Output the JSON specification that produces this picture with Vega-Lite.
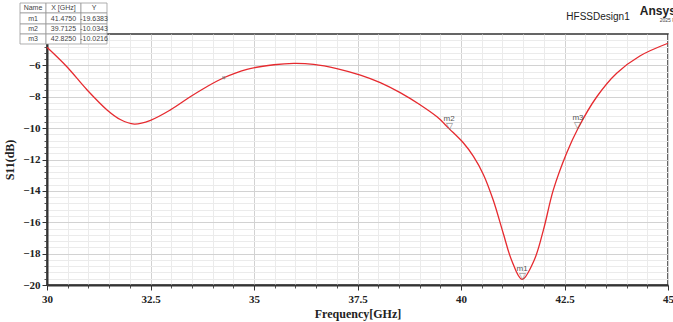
{
  "$schema": "https://vega.github.io/schema/vega-lite/v6.json",
  "width": 621,
  "height": 251,
  "autosize": {"type": "none"},
  "padding": {"left": 47, "top": 34, "right": 5, "bottom": 37},
  "background": "white",
  "title": {"text": "Terminal S Parameter Plot 1", "font": "Liberation Sans", "fontSize": 12, "fontWeight": "normal", "color": "#333333", "offset": 16, "anchor": "middle"},
  "config": {"view": {"stroke": "#333333", "strokeWidth": 1.5}},
  "datasets": {
    "curve": [
      {"f": 30.0, "s": -4.85}, {"f": 30.48, "s": -6.09}, {"f": 30.97, "s": -7.57}, {"f": 31.45, "s": -8.84},
      {"f": 31.77, "s": -9.45}, {"f": 32.11, "s": -9.74}, {"f": 32.5, "s": -9.5}, {"f": 32.98, "s": -8.84},
      {"f": 33.46, "s": -8.0}, {"f": 33.86, "s": -7.36}, {"f": 34.27, "s": -6.79}, {"f": 34.83, "s": -6.25},
      {"f": 35.48, "s": -5.96}, {"f": 35.96, "s": -5.87}, {"f": 36.44, "s": -5.93}, {"f": 37.0, "s": -6.2},
      {"f": 37.57, "s": -6.62}, {"f": 38.05, "s": -7.1}, {"f": 38.53, "s": -7.74}, {"f": 39.02, "s": -8.53},
      {"f": 39.42, "s": -9.28}, {"f": 39.7125, "s": -10.03}, {"f": 40.06, "s": -10.95}, {"f": 40.3, "s": -11.8},
      {"f": 40.54, "s": -12.95}, {"f": 40.78, "s": -14.6}, {"f": 41.02, "s": -16.7}, {"f": 41.22, "s": -18.4},
      {"f": 41.475, "s": -19.64}, {"f": 41.77, "s": -18.4}, {"f": 41.99, "s": -16.5}, {"f": 42.23, "s": -13.94},
      {"f": 42.55, "s": -11.6}, {"f": 42.825, "s": -10.02}, {"f": 43.28, "s": -8.0}, {"f": 43.76, "s": -6.5},
      {"f": 44.32, "s": -5.4}, {"f": 45.0, "s": -4.59}
    ],
    "markers": [
      {"f": 41.475, "s": -19.6383, "name": "m1"},
      {"f": 39.7125, "s": -10.0343, "name": "m2"},
      {"f": 42.825, "s": -10.0216, "name": "m3"}
    ],
    "cells": [
      {"x1": 29.348, "x2": 29.976, "y1": -2.024, "y2": -2.661, "t": "Name"},
      {"x1": 29.976, "x2": 30.821, "y1": -2.024, "y2": -2.661, "t": "X [GHz]"},
      {"x1": 30.821, "x2": 31.449, "y1": -2.024, "y2": -2.661, "t": "Y"},
      {"x1": 29.348, "x2": 29.976, "y1": -2.661, "y2": -3.363, "t": "m1"},
      {"x1": 29.976, "x2": 30.821, "y1": -2.661, "y2": -3.363, "t": "41.4750"},
      {"x1": 30.821, "x2": 31.449, "y1": -2.661, "y2": -3.363, "t": "-19.6383"},
      {"x1": 29.348, "x2": 29.976, "y1": -3.363, "y2": -4.0, "t": "m2"},
      {"x1": 29.976, "x2": 30.821, "y1": -3.363, "y2": -4.0, "t": "39.7125"},
      {"x1": 30.821, "x2": 31.449, "y1": -3.363, "y2": -4.0, "t": "-10.0343"},
      {"x1": 29.348, "x2": 29.976, "y1": -4.0, "y2": -4.637, "t": "m3"},
      {"x1": 29.976, "x2": 30.821, "y1": -4.0, "y2": -4.637, "t": "42.8250"},
      {"x1": 30.821, "x2": 31.449, "y1": -4.0, "y2": -4.637, "t": "-10.0216"}
    ],
    "labels": [
      {"f": 43.31, "s": -2.93, "t": "HFSSDesign1", "k": "design"},
      {"f": 44.32, "s": -2.55, "t": "Ansys", "k": "brand"},
      {"f": 44.8, "s": -3.1, "t": "2025 R", "k": "ver"}
    ]
  },
  "layer": [
    {
      "data": {"name": "curve"},
      "mark": {"type": "line", "strokeOpacity": 0},
      "encoding": {
        "x": {"field": "f", "type": "quantitative", "scale": {"domain": [30, 45], "nice": false, "zero": false},
          "axis": {"orient": "bottom", "values": [30.5,31,31.5,32,33,33.5,34,34.5,35.5,36,36.5,37,38,38.5,39,39.5,40.5,41,41.5,42,43,43.5,44,44.5], "labels": false, "domain": false, "grid": true, "gridColor": "#ebebeb", "gridWidth": 1, "tickSize": 3, "tickColor": "#555555", "title": null}},
        "y": {"field": "s", "type": "quantitative", "scale": {"domain": [-20, -4], "nice": false, "zero": false},
          "axis": {"orient": "left", "values": [-19.6,-19.2,-18.8,-18.4,-17.6,-17.2,-16.8,-16.4,-15.6,-15.2,-14.8,-14.4,-13.6,-13.2,-12.8,-12.4,-11.6,-11.2,-10.8,-10.4,-9.6,-9.2,-8.8,-8.4,-7.6,-7.2,-6.8,-6.4,-5.6,-5.2,-4.8,-4.4], "labels": false, "domain": false, "grid": true, "gridColor": "#ebebeb", "gridWidth": 1, "tickSize": 3, "tickColor": "#555555", "title": null}}
      }
    },
    {
      "data": {"name": "curve"},
      "mark": {"type": "line", "color": "#e62a2f", "strokeWidth": 1.3, "interpolate": "catmull-rom"},
      "encoding": {
        "x": {"field": "f", "type": "quantitative", "scale": {"domain": [30, 45], "nice": false, "zero": false},
          "axis": {"orient": "bottom", "values": [30, 32.5, 35, 37.5, 40, 42.5, 45], "format": ".1~f", "grid": true, "gridColor": "#d2d2d2", "gridWidth": 1, "domainColor": "#333333", "domainWidth": 2, "tickColor": "#333333", "tickSize": 5, "labelFont": "Liberation Serif", "labelFontWeight": "bold", "labelFontSize": 11, "labelColor": "#222222", "labelPadding": 3, "labelFlush": false, "title": "Frequency[GHz]", "titleFont": "Liberation Serif", "titleFontWeight": "bold", "titleFontSize": 12, "titleColor": "#222222", "titlePadding": 4}},
        "y": {"field": "s", "type": "quantitative", "scale": {"domain": [-20, -4], "nice": false, "zero": false},
          "axis": {"orient": "left", "values": [-20, -18, -16, -14, -12, -10, -8, -6], "grid": true, "gridColor": "#d2d2d2", "gridWidth": 1, "domainColor": "#333333", "domainWidth": 2, "tickColor": "#333333", "tickSize": 5, "labelFont": "Liberation Serif", "labelFontWeight": "bold", "labelFontSize": 11, "labelColor": "#222222", "labelPadding": 2, "labelFlush": false, "title": "S11(dB)", "titleFont": "Liberation Serif", "titleFontWeight": "bold", "titleFontSize": 12, "titleColor": "#222222", "titlePadding": 6}}
      }
    },
    {
      "data": {"name": "markers"},
      "mark": {"type": "text", "text": "▽", "fontSize": 9, "baseline": "bottom", "dy": 2, "color": "#777777"},
      "encoding": {
        "x": {"field": "f", "type": "quantitative", "scale": {"domain": [30, 45], "nice": false, "zero": false}, "axis": null},
        "y": {"field": "s", "type": "quantitative", "scale": {"domain": [-20, -4], "nice": false, "zero": false}, "axis": null}
      }
    },
    {
      "data": {"name": "markers"},
      "mark": {"type": "text", "fontSize": 8, "baseline": "bottom", "dy": -6, "color": "#555555", "font": "Liberation Sans"},
      "encoding": {
        "x": {"field": "f", "type": "quantitative", "scale": {"domain": [30, 45], "nice": false, "zero": false}, "axis": null},
        "y": {"field": "s", "type": "quantitative", "scale": {"domain": [-20, -4], "nice": false, "zero": false}, "axis": null},
        "text": {"field": "name"}
      }
    },
    {
      "data": {"values": [{"f": 34.27, "s": -6.79}]},
      "mark": {"type": "point", "shape": "cross", "size": 14, "color": "#777777", "filled": true, "angle": 45},
      "encoding": {
        "x": {"field": "f", "type": "quantitative", "scale": {"domain": [30, 45], "nice": false, "zero": false}, "axis": null},
        "y": {"field": "s", "type": "quantitative", "scale": {"domain": [-20, -4], "nice": false, "zero": false}, "axis": null}
      }
    },
    {
      "data": {"name": "cells"},
      "mark": {"type": "rect", "fill": "white", "stroke": "#9a9a9a", "strokeWidth": 0.8},
      "encoding": {
        "x": {"field": "x1", "type": "quantitative", "scale": {"domain": [30, 45], "nice": false, "zero": false}, "axis": null},
        "x2": {"field": "x2"},
        "y": {"field": "y1", "type": "quantitative", "scale": {"domain": [-20, -4], "nice": false, "zero": false}, "axis": null},
        "y2": {"field": "y2"}
      }
    },
    {
      "data": {"name": "cells"},
      "transform": [{"calculate": "(datum.x1 + datum.x2) / 2", "as": "xc"}, {"calculate": "(datum.y1 + datum.y2) / 2", "as": "yc"}],
      "mark": {"type": "text", "fontSize": 7, "font": "Liberation Sans", "color": "#444444", "baseline": "middle", "align": "center"},
      "encoding": {
        "x": {"field": "xc", "type": "quantitative", "scale": {"domain": [30, 45], "nice": false, "zero": false}, "axis": null},
        "y": {"field": "yc", "type": "quantitative", "scale": {"domain": [-20, -4], "nice": false, "zero": false}, "axis": null},
        "text": {"field": "t"}
      }
    },
    {
      "data": {"name": "labels"},
      "transform": [{"filter": "datum.k == 'design'"}],
      "mark": {"type": "text", "fontSize": 10, "font": "Liberation Sans", "color": "#222222", "align": "center", "baseline": "middle"},
      "encoding": {
        "x": {"field": "f", "type": "quantitative", "scale": {"domain": [30, 45], "nice": false, "zero": false}, "axis": null},
        "y": {"field": "s", "type": "quantitative", "scale": {"domain": [-20, -4], "nice": false, "zero": false}, "axis": null},
        "text": {"field": "t"}
      }
    },
    {
      "data": {"name": "labels"},
      "transform": [{"filter": "datum.k == 'brand'"}],
      "mark": {"type": "text", "fontSize": 12, "fontWeight": "bold", "font": "Liberation Sans", "color": "#222222", "align": "left", "baseline": "middle"},
      "encoding": {
        "x": {"field": "f", "type": "quantitative", "scale": {"domain": [30, 45], "nice": false, "zero": false}, "axis": null},
        "y": {"field": "s", "type": "quantitative", "scale": {"domain": [-20, -4], "nice": false, "zero": false}, "axis": null},
        "text": {"field": "t"}
      }
    },
    {
      "data": {"name": "labels"},
      "transform": [{"filter": "datum.k == 'ver'"}],
      "mark": {"type": "text", "fontSize": 5, "font": "Liberation Sans", "color": "#444444", "align": "left", "baseline": "middle"},
      "encoding": {
        "x": {"field": "f", "type": "quantitative", "scale": {"domain": [30, 45], "nice": false, "zero": false}, "axis": null},
        "y": {"field": "s", "type": "quantitative", "scale": {"domain": [-20, -4], "nice": false, "zero": false}, "axis": null},
        "text": {"field": "t"}
      }
    }
  ],
  "resolve": {"axis": {"x": "independent", "y": "independent"}}
}
